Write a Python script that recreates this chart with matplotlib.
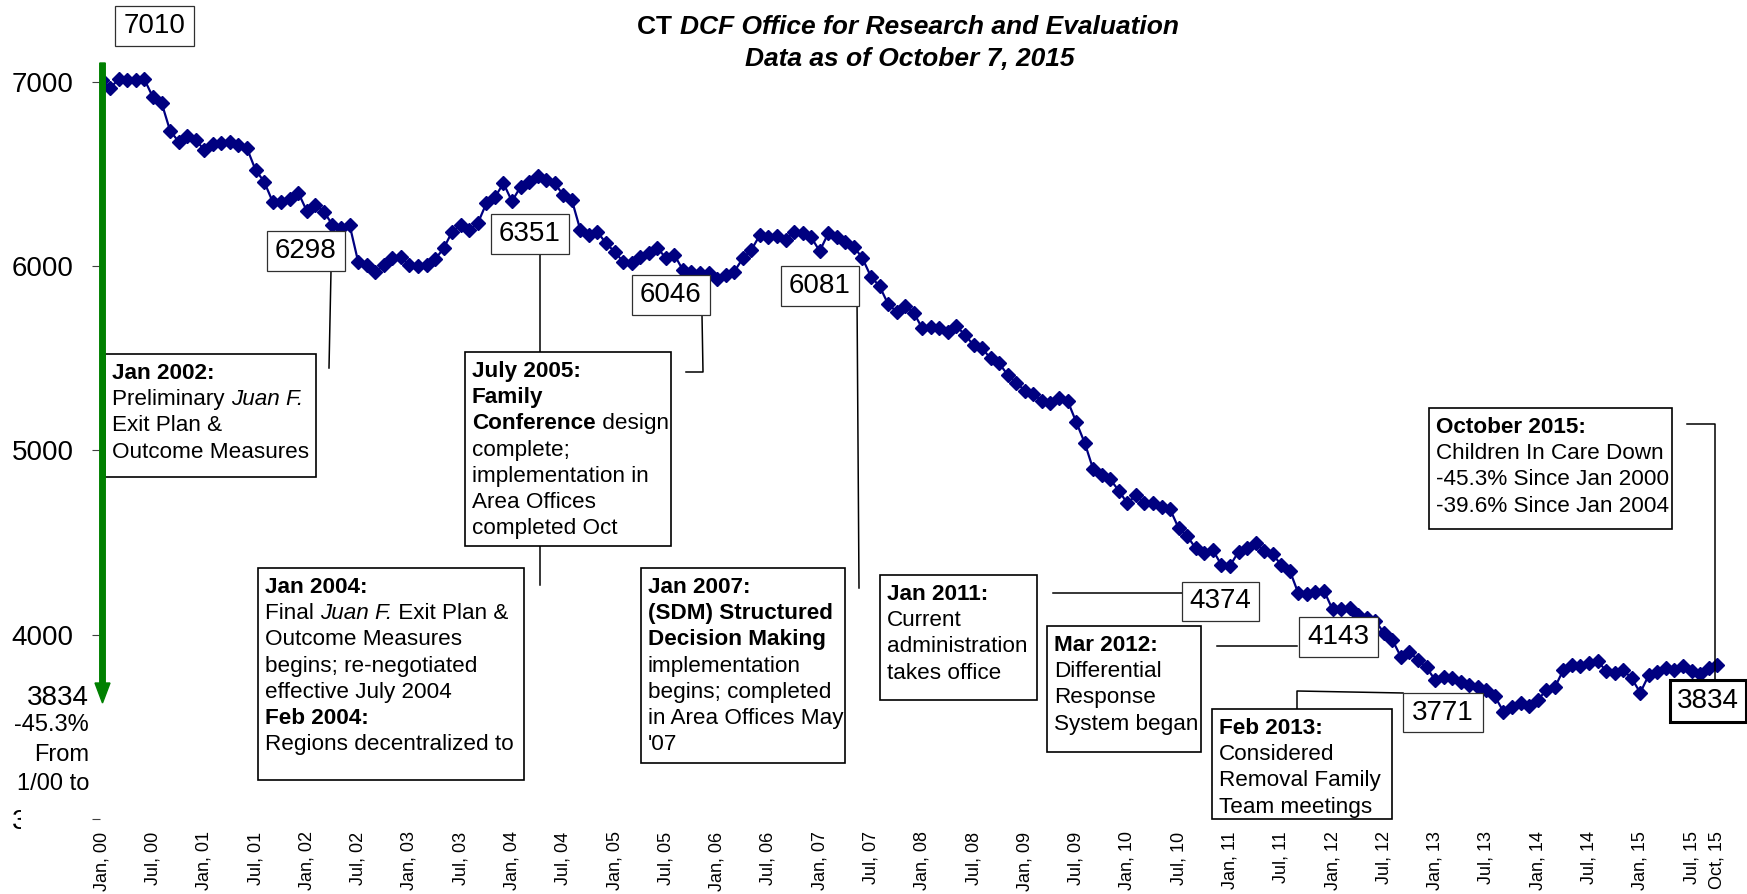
import matplotlib
matplotlib.use("Agg")
import matplotlib.pyplot as plt
from matplotlib.patches import Rectangle, FancyArrow
from matplotlib.lines import Line2D
from matplotlib.transforms import Affine2D

plt.rcParams['font.family'] = ['Liberation Sans', 'DejaVu Sans']

# children in care, monthly Jan 2000 - Oct 2015
children_in_care = [
    7010, 6967, 7014, 7009, 7009, 7012, 6915, 6886, 6734, 6675, 6705, 6684,  # 2000
    6630, 6660, 6669, 6675, 6656, 6638, 6521, 6458, 6349, 6349, 6362, 6398,  # 2001
    6298, 6331, 6295, 6223, 6208, 6223, 6024, 6003, 5965, 6005, 6041, 6047,  # 2002
    6005, 6000, 6005, 6036, 6096, 6186, 6222, 6195, 6232, 6340, 6373, 6449,  # 2003
    6351, 6430, 6458, 6488, 6467, 6449, 6385, 6358, 6195, 6168, 6186, 6123,  # 2004
    6078, 6024, 6015, 6051, 6069, 6096, 6046, 6060, 5978, 5969, 5964, 5960,  # 2005
    5928, 5951, 5969, 6042, 6087, 6168, 6159, 6163, 6141, 6186, 6177, 6156,  # 2006
    6081, 6177, 6159, 6132, 6105, 6042, 5942, 5891, 5794, 5752, 5783, 5747,  # 2007
    5662, 5671, 5662, 5644, 5674, 5626, 5571, 5553, 5499, 5472, 5409, 5367,  # 2008
    5324, 5305, 5267, 5258, 5286, 5269, 5155, 5041, 4897, 4866, 4842, 4781,  # 2009
    4712, 4757, 4712, 4712, 4690, 4680, 4577, 4535, 4468, 4444, 4459, 4378,  # 2010
    4374, 4450, 4468, 4495, 4455, 4437, 4378, 4347, 4224, 4220, 4233, 4238,  # 2011
    4137, 4142, 4143, 4106, 4088, 4076, 4010, 3971, 3880, 3907, 3862, 3822,  # 2012
    3754, 3771, 3766, 3745, 3727, 3714, 3699, 3665, 3582, 3605, 3627, 3613,  # 2013
    3645, 3699, 3714, 3808, 3835, 3830, 3848, 3858, 3804, 3790, 3808, 3763,  # 2014
    3685, 3781, 3799, 3817, 3808, 3830, 3804, 3786, 3817, 3834,              # 2015
]
months = list(range(len(children_in_care)))

years = ["00", "01", "02", "03", "04", "05", "06", "07",
         "08", "09", "10", "11", "12", "13", "14", "15"]
tick_pos = []
tick_labels = []
for i, yy in enumerate(years):
    tick_pos += [i * 12, i * 12 + 6]
    tick_labels += ["Jan, " + yy, "Jul, " + yy]
tick_pos.append(189)
tick_labels.append("Oct, 15")

y_ticks = [3000, 4000, 5000, 6000, 7000]

# callout value boxes: (label, x0, y0, x1, y1) in pixels from top-left
value_boxes = [
    ("7010", 115, 6, 194, 46),
    ("6298", 267, 231, 345, 271),
    ("6351", 491, 214, 569, 254),
    ("6046", 632, 275, 710, 315),
    ("6081", 781, 266, 859, 306),
    ("4374", 1182, 582, 1259, 621),
    ("4143", 1299, 617, 1378, 657),
    ("3771", 1403, 693, 1483, 732),
]

# event boxes: (x0, y0, x1, y1, lines) ; each line is list of (text, weight, style)
B, N = "bold", "normal"
event_boxes = [
    (105, 354, 316, 477, [
        [("Jan 2002:", B, N)],
        [("Preliminary ", N, N), ("Juan F.", N, "italic")],
        [("Exit Plan &", N, N)],
        [("Outcome Measures", N, N)]]),
    (465, 352, 671, 546, [
        [("July 2005:", B, N)],
        [("Family", B, N)],
        [("Conference", B, N), (" design", N, N)],
        [("complete;", N, N)],
        [("implementation in", N, N)],
        [("Area Offices", N, N)],
        [("completed Oct", N, N)]]),
    (258, 568, 524, 780, [
        [("Jan 2004:", B, N)],
        [("Final ", N, N), ("Juan F.", N, "italic"), (" Exit Plan &", N, N)],
        [("Outcome Measures", N, N)],
        [("begins; re-negotiated", N, N)],
        [("effective July 2004", N, N)],
        [("Feb 2004:", B, N)],
        [("Regions decentralized to", N, N)]]),
    (641, 568, 845, 763, [
        [("Jan 2007:", B, N)],
        [("(SDM) Structured", B, N)],
        [("Decision Making", B, N)],
        [("implementation", N, N)],
        [("begins; completed", N, N)],
        [("in Area Offices May", N, N)],
        [("'07", N, N)]]),
    (880, 575, 1037, 700, [
        [("Jan 2011:", B, N)],
        [("Current", N, N)],
        [("administration", N, N)],
        [("takes office", N, N)]]),
    (1047, 626, 1201, 752, [
        [("Mar 2012:", B, N)],
        [("Differential", N, N)],
        [("Response", N, N)],
        [("System began", N, N)]]),
    (1212, 709, 1392, 819, [
        [("Feb 2013:", B, N)],
        [("Considered", N, N)],
        [("Removal Family", N, N)],
        [("Team meetings", N, N)]]),
    (1429, 408, 1672, 529, [
        [("October 2015:", B, N)],
        [("Children In Care Down", N, N)],
        [("-45.3% Since Jan 2000", N, N)],
        [("-39.6% Since Jan 2004", N, N)]]),
]

# connector polylines in pixels
connectors = [
    [(331, 271), (329, 368)],
    [(540, 254), (540, 585)],
    [(702, 315), (703, 372), (686, 372)],
    [(857, 297), (859, 588)],
    [(1182, 593), (1053, 593)],
    [(1217, 646), (1297, 646)],
    [(1297, 709), (1297, 691), (1403, 693)],
    [(1687, 424), (1715, 424), (1715, 680)],
]

W, H = 1747, 894
fig = plt.figure(figsize=(W / 100, H / 100), dpi=100)
px = Affine2D().scale(1 / W, -1 / H).translate(0, 1) + fig.transFigure

ax = fig.add_axes([100 / W, 75 / H, (1730 - 100) / W, (819 - 17) / H])
ax.plot(months, children_in_care, color="#000080", lw=1.6, marker="D",
        ms=7, mec="#000080", mfc="#000080", zorder=3)
ax.set_xlim(-0.2, 190.5)
ax.set_ylim(3000, 7351)
for s in ax.spines.values():
    s.set_visible(False)
ax.set_yticks(y_ticks)
ax.set_yticklabels([str(v) for v in y_ticks])
ax.tick_params(axis="y", labelsize=20, length=6, color="#404040", pad=13)
ax.set_xticks(tick_pos)
ax.set_xticklabels(tick_labels, rotation=90, va="top", ha="center")
ax.tick_params(axis="x", labelsize=13, length=0, pad=9)

renderer = fig.canvas.get_renderer()


def text_width(s, size, weight, style):
    t = fig.text(0, 0, "|" + s + "|", fontsize=size, fontweight=weight, fontstyle=style)
    t2 = fig.text(0, 0, "||", fontsize=size, fontweight=weight, fontstyle=style)
    w = t.get_window_extent(renderer).width - t2.get_window_extent(renderer).width
    t.remove()
    t2.remove()
    return w


def draw_runs(x, y, runs, size, z=6):
    for s, weight, style in runs:
        fig.text(x, y, s, transform=px, fontsize=size, fontweight=weight,
                 fontstyle=style, va="baseline", ha="left", zorder=z)
        x += text_width(s, size, weight, style)


def box(x0, y0, x1, y1, lw=1.2, ec="black"):
    fig.patches.append(Rectangle((x0, y0), x1 - x0, y1 - y0, transform=px,
                                 facecolor="white", edgecolor=ec, lw=lw, zorder=5))


# title
title1 = [("CT ", B, N), ("DCF Office for Research and Evaluation", B, "italic")]
title2 = [("Data as of October 7, 2015", B, "italic")]
for runs, cx, base in [(title1, 908, 34), (title2, 910, 66)]:
    total = sum(text_width(s, 19, w, st) for s, w, st in runs)
    draw_runs(cx - total / 2, base, runs, 19)

# connectors
for pts in connectors:
    xs = [p[0] for p in pts]
    ys = [p[1] for p in pts]
    fig.add_artist(Line2D(xs, ys, transform=px, color="black", lw=1.1, zorder=4))

# value boxes
for label, x0, y0, x1, y1 in value_boxes:
    box(x0, y0, x1, y1, lw=0.9, ec="#303030")
    fig.text((x0 + x1) / 2, (y0 + y1) / 2, label, transform=px, fontsize=20,
             ha="center", va="center", zorder=6)
box(1670, 680, 1746, 722, lw=2.2)
fig.text(1708, 701, "3834", transform=px, fontsize=20, ha="center", va="center", zorder=6)

# event boxes
for x0, y0, x1, y1, lines in event_boxes:
    box(x0, y0, x1, y1)
    for i, runs in enumerate(lines):
        draw_runs(x0 + 7, y0 + 25 + i * 26.2, runs, 16.2)

# green arrow along the left
fig.patches.append(FancyArrow(102.5, 63, 0, 640, width=5.5, head_width=15, head_length=20,
                              length_includes_head=True, color="#008000", transform=px,
                              zorder=7))

# left side note, covers the 3000 label
fig.patches.append(Rectangle((21, 806), 70, 30, transform=px, facecolor="white",
                             edgecolor="none", zorder=8))
fig.text(89, 705, "3834", transform=px, fontsize=20, ha="right", va="baseline", zorder=9)
for txt, base in [("-45.3%", 731), ("From", 761), ("1/00 to", 790)]:
    fig.text(89, base, txt, transform=px, fontsize=17, ha="right", va="baseline", zorder=9)

fig.savefig("out.png", dpi=100)
